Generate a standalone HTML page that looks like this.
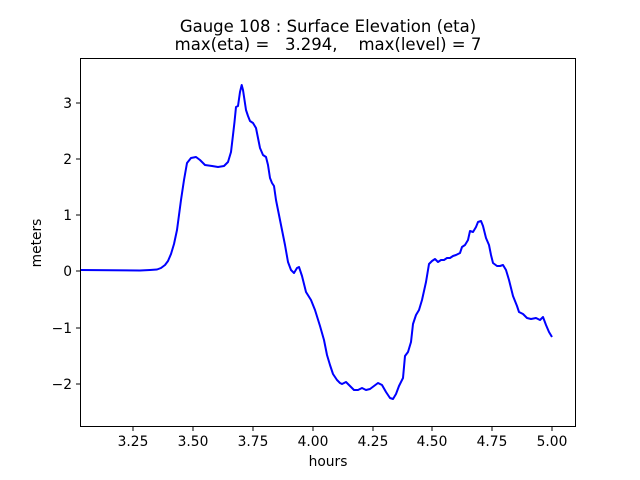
<!DOCTYPE html>
<html><head><style>body{margin:0;background:#fff}svg{display:block}text{font-family:"DejaVu Sans","Liberation Sans",sans-serif;fill:#000}</style></head><body>
<svg width="640" height="480" viewBox="0 0 640 480" xmlns="http://www.w3.org/2000/svg">
<rect width="640" height="480" fill="#fff"/>
<text x="328" y="32" font-size="16.5" text-anchor="middle">Gauge 108 : Surface Elevation (eta)</text>
<text x="328" y="50" font-size="16.5" text-anchor="middle" xml:space="preserve">max(eta) =   3.294,    max(level) = 7</text>
<clipPath id="c"><rect x="80" y="58" width="496" height="369"/></clipPath>
<polyline clip-path="url(#c)" fill="none" stroke="#0000ff" stroke-width="2" stroke-linejoin="round" points="80,270 140,270.5 150,270 157,269.5 161,268 165,265 168,261 171,254 174,244 177,230 181,200 184,180 187,163 191,158 196,157 200,160 205,165 212,166 218,167 224,166 228,162 231,152 233,135 234.5,122 236,107 238,106 240,92 241.7,85 243,90 244.5,100 246,110 248,116 250,121 253,123 256,128 258,138 260,148 263,155 266,157 268,165 270,178 272,183 274,186 276,200 279,215 282,230 285,245 288,262 291,270 294,273 297,268 299,267 302,276 306,292 311,300 315,310 320,326 324,340 327,355 330,365 333,374 337,380 340,383 342,384 346,382 350,386 354,390 358,390 362,388 366,390 370,389 374,386 378,383 382,385 386,392 390,398 393,399 396,394 399,386 403,378 405,356 408,352 411,342 413,324 416,315 419,310 422,300 426,282 429,264 432,261 435,259 438,262 441,260 444,260 447,258 450,258 453,256 456,255 460,253 462,247 465,245 468,240 470,231 473,232 476,227 478,222 481,221 483,226 486,238 489,245 491,255 493,263 497,266 500,266 503,265 506,270 509,280 513,296 517,306 519,312 523,314 527,318 531,319 536,318 540,320 543,317 546,325 549,332 552,337"/>
<rect x="80.5" y="58.5" width="495" height="368" fill="none" stroke="#000" stroke-width="1"/>
<g stroke="#000" stroke-width="1">
<line x1="133" y1="427" x2="133" y2="431"/><line x1="193" y1="427" x2="193" y2="431"/><line x1="253" y1="427" x2="253" y2="431"/><line x1="313" y1="427" x2="313" y2="431"/><line x1="373" y1="427" x2="373" y2="431"/><line x1="432" y1="427" x2="432" y2="431"/><line x1="492" y1="427" x2="492" y2="431"/><line x1="552" y1="427" x2="552" y2="431"/>
<line x1="76" y1="384" x2="80" y2="384"/><line x1="76" y1="328" x2="80" y2="328"/><line x1="76" y1="271" x2="80" y2="271"/><line x1="76" y1="215" x2="80" y2="215"/><line x1="76" y1="159" x2="80" y2="159"/><line x1="76" y1="103" x2="80" y2="103"/>
</g>
<g font-size="13.8" text-anchor="middle">
<text x="133" y="446">3.25</text><text x="193" y="446">3.50</text><text x="253" y="446">3.75</text><text x="313" y="446">4.00</text><text x="373" y="446">4.25</text><text x="432" y="446">4.50</text><text x="492" y="446">4.75</text><text x="552" y="446">5.00</text>
<text x="328" y="466">hours</text>
</g>
<g font-size="13.8" text-anchor="end">
<text x="72" y="389">−2</text><text x="72" y="333">−1</text><text x="72" y="276">0</text><text x="72" y="220">1</text><text x="72" y="164">2</text><text x="72" y="108">3</text>
</g>
<text x="41" y="243" font-size="13.8" text-anchor="middle" transform="rotate(-90 41 243)">meters</text>
</svg>
</body></html>
